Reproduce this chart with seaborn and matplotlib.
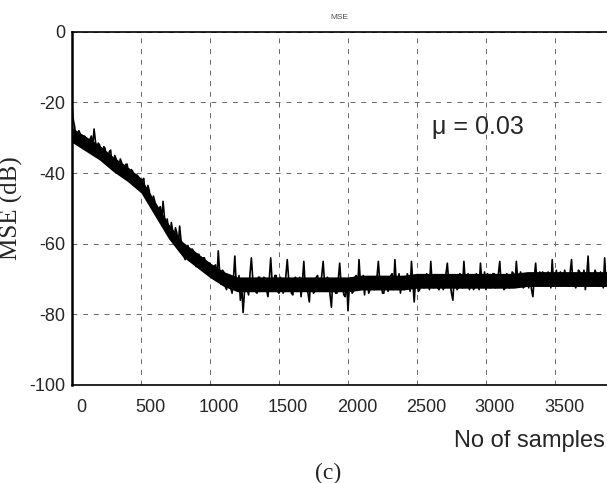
import numpy as np
import pandas as pd
import matplotlib
matplotlib.use("Agg")
import matplotlib.pyplot as plt
import matplotlib.transforms as mtransforms
import seaborn as sns

# MSE learning curve (dB).
# mse_db: samples 0, 20, 40, ...; mse_db_odd: samples 10, 30, 50, ...
mse_db = [
    -21, -27, -31, -29, -33, -30, -33, -29.5, -27.5, -34,
    -32, -35.5, -33, -37, -33.5, -38.5, -36, -39, -37, -40,
    -37.5, -41.5, -39.5, -43, -41, -45, -41.5, -47, -45, -49.5,
    -48, -52, -49.5, -48, -54.5, -56, -54, -58.5, -57, -55,
    -61, -64.5, -60.5, -65, -62, -66.5, -63, -67, -64, -68,
    -65.5, -69.5, -66, -62, -71.5, -68, -73, -69.5, -74, -63.5,
    -72, -76, -79.5, -70, -74.5, -64, -71, -74, -69.5, -73,
    -70, -75, -64, -72.5, -69, -74, -70.5, -73, -64.5, -71,
    -74.5, -69.5, -72.5, -75, -65, -71, -76.5, -70, -73.5, -69,
    -72, -65, -73.5, -70, -78, -71, -74, -65.5, -72, -75,
    -79, -70.5, -73.5, -69, -64.5, -72, -74.5, -70, -73, -69.5,
    -72.5, -65, -71, -74, -70, -72.5, -68.5, -64.5, -71.5, -74,
    -69.5, -72, -70, -65, -76.5, -71, -73, -69, -72, -70,
    -65, -72.5, -69.5, -73, -70, -72, -65.5, -71, -76, -70.5,
    -72.5, -69, -65, -71.5, -73, -69.5, -72, -70, -65.5, -71,
    -73, -69, -71.5, -68.5, -72, -65, -70.5, -72.5, -69, -71,
    -68.5, -65, -71.5, -69, -72, -70, -68.5, -75, -65.5, -70.5,
    -72, -68.5, -71, -69, -64.5, -70.5, -72, -68, -71, -69.5,
    -72, -64.5, -70, -71.5, -68, -70.5, -73, -63.5, -69, -71.5,
    -68.5, -72, -69.5, -64, -70.5,
]
mse_db_odd = [
    -25, -31.5, -28, -32, -29.5, -33.5, -30.5, -32.5, -31, -31.5,
    -35, -32.5, -36.5, -34, -37.5, -35, -38, -36, -40, -37.5,
    -41, -39, -43, -40.5, -44.5, -42, -46, -43.5, -48.5, -46.5,
    -51.5, -50, -53, -52.5, -53, -58.5, -56.5, -55.5, -60.5, -59,
    -63.5, -61, -64, -61.5, -65.5, -63, -66.5, -64, -67.5, -65.5,
    -68.5, -66.5, -70.5, -68, -67.5, -72, -69, -72.5, -70, -71,
    -69, -72, -73.5, -73, -68.5, -70, -73.5, -69.5, -73, -69.5,
    -73, -70, -70.5, -69, -73.5, -69.5, -74, -69, -70, -74,
    -70, -73.5, -69.5, -70.5, -72, -74, -70, -74, -69.5, -73,
    -69, -71, -69.5, -74.5, -70.5, -74, -70, -71.5, -74.5, -70,
    -72, -74, -69.5, -73, -71, -69, -70.5, -74, -69.5, -73,
    -69.5, -70.5, -74, -69.5, -73.5, -69, -73, -71, -68.5, -70.5,
    -73, -68.5, -73.5, -71, -70, -73.5, -69, -72.5, -68.5, -73,
    -71.5, -69, -72.5, -69, -73, -68.5, -71, -74, -69.5, -73,
    -68.5, -72.5, -71, -68.5, -69.5, -73, -68.5, -73, -70.5, -68,
    -68.5, -72.5, -68.5, -72.5, -68.5, -71.5, -73, -68.5, -72.5, -68,
    -72, -70, -68, -72.5, -68.5, -72.5, -73, -69.5, -71.5, -68,
    -68, -72, -68, -72.5, -71, -67.5, -68.5, -71.5, -67.5, -72,
    -68, -71.5, -72.5, -67.5, -72, -67.5, -69, -71.5, -72, -67.5,
    -72, -68, -72.5, -71,
]

# solid black core of the noisy trace (upper / lower edge every 100 samples)
band_samples = [0, 100, 200, 300, 400, 500, 600, 700, 800, 900,
                1000, 1100, 1200, 1300, 1400, 1500, 1600, 1700, 1800, 1900,
                2000, 2100, 2200, 2300, 2400, 2500, 2600, 2700, 2800, 2900,
                3000, 3100, 3200, 3300, 3400, 3500, 3600, 3700, 3800, 3900]
band_hi = [-27.1, -29.6, -32.1, -35.4, -38.1, -41.4, -47.9, -54.4, -59.4, -62.4,
           -65.4, -67.9, -69.4, -69.4, -69.4, -69.4, -69.4, -69.4, -69.4, -69.4,
           -69.4, -68.9, -68.9, -68.9, -68.9, -68.4, -68.4, -68.4, -68.4, -68.4,
           -68.4, -68.4, -68.4, -67.9, -67.9, -67.9, -67.9, -67.9, -67.9, -67.9]
band_lo = [-31.3, -33.8, -36.3, -39.6, -42.3, -45.6, -52.1, -58.6, -63.6, -66.6,
           -69.6, -72.1, -73.6, -73.6, -73.6, -73.6, -73.6, -73.6, -73.6, -73.6,
           -73.6, -73.1, -73.1, -73.1, -73.1, -72.6, -72.6, -72.6, -72.6, -72.6,
           -72.6, -72.6, -72.6, -72.1, -72.1, -72.1, -72.1, -72.1, -72.1, -72.1]

x_ticks = [0, 500, 1000, 1500, 2000, 2500, 3000, 3500]
y_ticks = [0, -20, -40, -60, -80, -100]
mu_label = "\u03bc = 0.03"

df = pd.concat([
    pd.DataFrame({"sample": np.arange(len(mse_db)) * 20, "mse": mse_db}),
    pd.DataFrame({"sample": np.arange(len(mse_db_odd)) * 20 + 10, "mse": mse_db_odd}),
]).sort_values("sample")

sns.set_style("white")
plt.rcParams["font.family"] = ["Liberation Sans", "DejaVu Sans"]

fig = plt.figure(figsize=(6.07, 4.83), dpi=100)
ax = fig.add_axes([0.1186, 0.203, 0.8814, 0.731])

ax.fill_between(band_samples, band_lo, band_hi, color="black", linewidth=0, zorder=2)
sns.lineplot(data=df, x="sample", y="mse", color="black", linewidth=1.2, ax=ax, zorder=3)

ax.set_xlim(0, 3877)
ax.set_ylim(-100, 0)
ax.set_xticks(x_ticks)
ax.set_yticks(y_ticks)
ax.set_xticklabels([str(t) for t in x_ticks], fontsize=13)
ax.set_yticklabels([str(t) for t in y_ticks], fontsize=13)
ax.tick_params(axis="both", length=0)
ax.tick_params(axis="x", pad=10)
ax.tick_params(axis="y", pad=5)

# scanned labels sit a little right of their grid lines
shift = mtransforms.ScaledTranslation(9 / 100, 0, fig.dpi_scale_trans)
for lab in ax.get_xticklabels():
    lab.set_transform(lab.get_transform() + shift)

ax.grid(True, color="0.4", linestyle=(0, (5, 6)), linewidth=0.7)
ax.set_axisbelow(True)

for side in ["top", "bottom"]:
    ax.spines[side].set_color("black")
    ax.spines[side].set_linewidth(1.2)
ax.spines["left"].set_color("black")
ax.spines["left"].set_linewidth(1.8)
ax.spines["right"].set_visible(False)

ax.set_title("MSE", fontsize=6, color="0.3", pad=9)
ax.set_xlabel("")
ax.set_ylabel("MSE (dB)", fontsize=18, family=["Liberation Serif", "DejaVu Serif"], labelpad=4)

ax.text(2940, -27, mu_label, fontsize=18, ha="center", va="center")

fig.text(605 / 607, 1 - 441 / 483, "No of samples", fontsize=17, ha="right", va="center")
fig.text(328 / 607, 1 - 473 / 483, "(c)", fontsize=17, ha="center", va="center",
         family=["Liberation Serif", "DejaVu Serif"])

fig.savefig("out.png", dpi=100)
plt.close(fig)
